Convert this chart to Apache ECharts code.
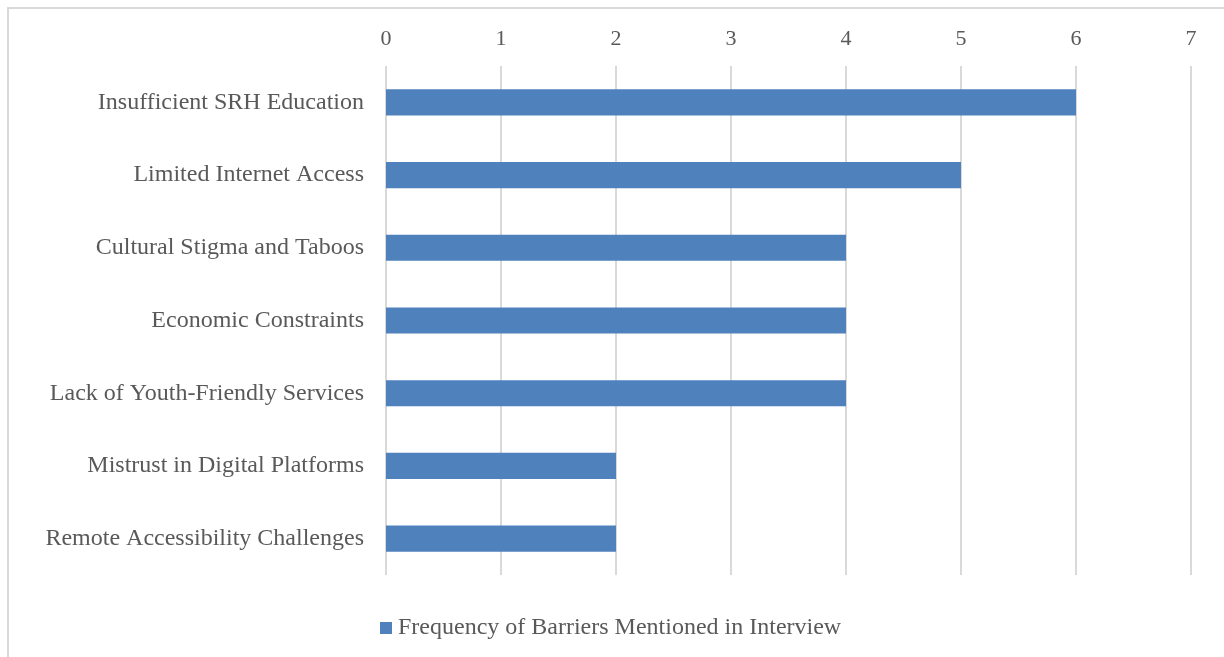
<!DOCTYPE html>
<html><head><meta charset="utf-8">
<script src="https://cdn.jsdelivr.net/npm/echarts@6/dist/echarts.min.js"></script>
<style>html,body{margin:0;padding:0;background:#fff}#c{width:1224px;height:657px}</style>
</head><body><div id="c"></div>
<script>
const categories = ["Insufficient SRH Education","Limited Internet Access","Cultural Stigma and Taboos","Economic Constraints","Lack of Youth-Friendly Services","Mistrust in Digital Platforms","Remote Accessibility Challenges"];
const values = [6,5,4,4,4,2,2];
const seriesName = "Frequency of Barriers Mentioned in Interview";
const font = "'Liberation Serif','Times New Roman',serif";
const chart = echarts.init(document.getElementById('c'));
chart.setOption({
  backgroundColor:'#fff',
  animation:false,
  textStyle:{fontFamily:font},
  graphic:[{type:'rect',shape:{x:8,y:8,width:1240,height:700},style:{fill:'none',stroke:'#d9d9d9',lineWidth:2},silent:true}],
  grid:{left:386,right:33,top:66,bottom:82},
  legend:{bottom:12,left:375,itemWidth:12,itemHeight:12,icon:'rect',itemGap:10,
    textStyle:{fontFamily:font,fontSize:24,color:'#595959',padding:[0,0,0,1]},data:[seriesName]},
  xAxis:{type:'value',position:'top',min:0,max:7,interval:1,
    axisLine:{show:false},axisTick:{show:false},
    axisLabel:{fontFamily:font,fontSize:22,color:'#595959',margin:16},
    splitLine:{lineStyle:{color:'#d9d9d9',width:2}}},
  yAxis:{type:'category',data:categories,inverse:true,
    axisLine:{show:false},axisTick:{show:false},
    axisLabel:{fontFamily:font,fontSize:24,color:'#595959',margin:22}},
  series:[{name:seriesName,type:'bar',data:values,barWidth:'36%',itemStyle:{color:'#4f81bd'}}]
});
</script></body></html>
